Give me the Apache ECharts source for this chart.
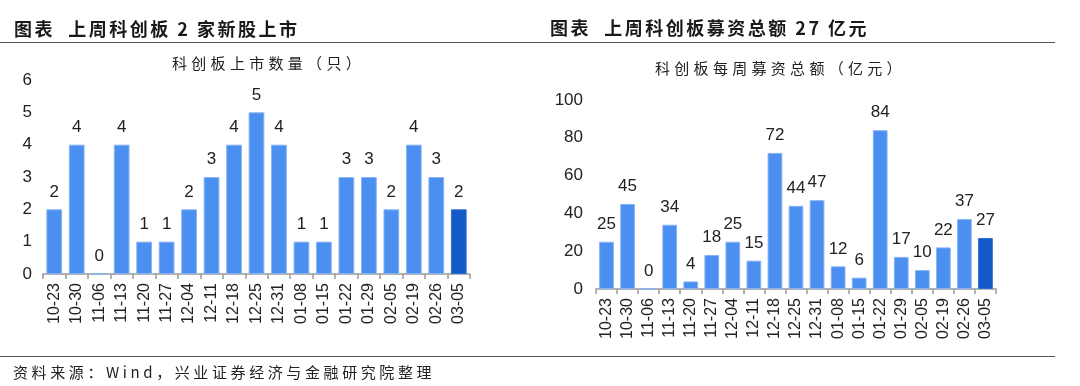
<!DOCTYPE html>
<html><head><meta charset="utf-8">
<script src="https://cdn.jsdelivr.net/npm/echarts@6/dist/echarts.min.js"></script>
<style>
html,body{margin:0;padding:0;background:#fff;width:1080px;height:386px;overflow:hidden;}
#c{position:absolute;left:0;top:0;width:1080px;height:386px;}
.t{position:absolute;white-space:nowrap;color:#1a1a1a;}
.title{font-family:"Noto Sans CJK SC";font-weight:bold;font-size:18px;letter-spacing:2.5px;line-height:20px;}
.sub{font-family:"Noto Sans CJK SC";font-size:15px;letter-spacing:4.3px;line-height:18px;color:#222;}
.src{font-family:"Noto Sans CJK SC";font-size:15px;letter-spacing:3.6px;line-height:18px;color:#222;}
.hl{position:absolute;left:0;width:1055px;height:0;border-top:1.5px solid #555;}
</style></head>
<body>
<div id="c"></div>
<div class="t title" style="left:14px;top:18px;">图表&nbsp;&nbsp;上周科创板&nbsp;2&nbsp;家新股上市</div>
<div class="t title" style="left:550px;top:17px;">图表&nbsp;&nbsp;上周科创板募资总额&nbsp;27&nbsp;亿元</div>
<div class="hl" style="top:42px;"></div>
<div class="t sub" style="left:172px;top:54px;">科创板上市数量（只）</div>
<div class="t sub" style="left:655px;top:59px;">科创板每周募资总额（亿元）</div>
<div class="hl" style="top:356px;"></div>
<div class="t src" style="left:13px;top:363px;">资料来源：Wind，兴业证券经济与金融研究院整理</div>
<script>
const categories = ['10-23','10-30','11-06','11-13','11-20','11-27','12-04','12-11','12-18','12-25','12-31','01-08','01-15','01-22','01-29','02-05','02-19','02-26','03-05'];
const listingCount = [2,4,0,4,1,1,2,3,4,5,4,1,1,3,3,2,4,3,2];
const fundsRaised = [25,45,0,34,4,18,25,15,72,44,47,12,6,84,17,10,22,37,27];
const countTicks = {min:0, max:6, interval:1};
const fundTicks = {min:0, max:100, interval:20};

const base = '#4b8ff0', hi = '#115ac8';
function mk(arr){ return arr.map((v,i)=>({value:v, itemStyle:{color: i===arr.length-1?hi:base, borderColor: i===arr.length-1?'#2f6fd4':'#86b4f5'}})); }
const font = 'Liberation Sans, Arial, sans-serif';
function xAx(gi){ return {type:'category', gridIndex:gi, data:categories, boundaryGap:true,
  axisLine:{lineStyle:{color:'#9a9a9a',width:1.5}}, axisTick:{show:true,length:5,lineStyle:{color:'#9a9a9a',width:1.5}},
  axisLabel:{rotate:90, interval:0, margin:9, fontSize:16, color:'#222', fontFamily:font}}; }
function yAx(gi,t,m){ return {type:'value', gridIndex:gi, min:t.min, max:t.max, interval:t.interval,
  axisLine:{show:false}, axisTick:{show:false}, splitLine:{show:false},
  axisLabel:{fontSize:17, color:'#222', margin:m, fontFamily:font}}; }
function ser(gi,arr){ return {type:'bar', xAxisIndex:gi, yAxisIndex:gi, data:mk(arr), barCategoryGap:'30%',
  itemStyle:{borderWidth:1},
  label:{show:true, position:'top', distance:9, fontSize:17, color:'#222', fontFamily:font}}; }
const chart = echarts.init(document.getElementById('c'), null, {renderer:'canvas'});
chart.setOption({
  animation:false,
  grid:[{left:43, right:610, top:80, bottom:112}, {left:596, right:84, top:100, bottom:97}],
  xAxis:[xAx(0), xAx(1)],
  yAxis:[yAx(0,countTicks,11), yAx(1,fundTicks,13)],
  series:[ser(0,listingCount), ser(1,fundsRaised)]
});
</script>
</body></html>
